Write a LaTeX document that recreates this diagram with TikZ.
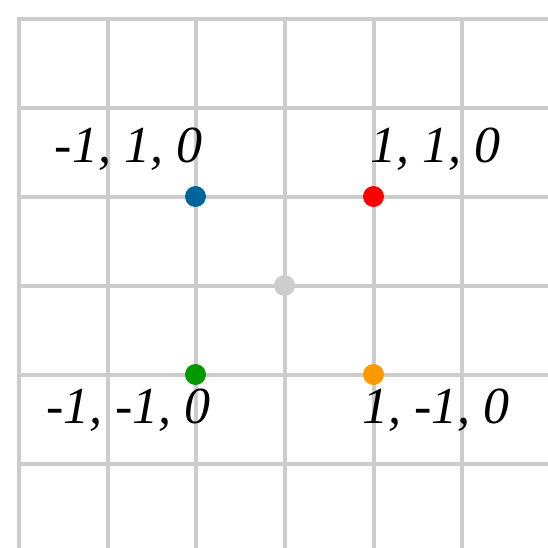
\documentclass[tikz,border=0pt]{standalone}
\usepackage{fontspec}
\setmainfont{Liberation Serif}
\definecolor{gridgray}{HTML}{CCCCCC}
\definecolor{dotblue}{HTML}{006699}
\definecolor{dotred}{HTML}{FF0000}
\definecolor{dotgreen}{HTML}{009900}
\definecolor{dotorange}{HTML}{FF9900}
\tikzset{
  gridline/.style={draw=gridgray, line width=4pt},
  dot/.style={circle, inner sep=0pt, minimum size=21pt, draw=none, fill=#1},
  coordlabel/.style={anchor=base, inner sep=0pt, font=\fontsize{52}{60}\selectfont\itshape}
}
\begin{document}
\begin{tikzpicture}[x=1pt,y=-1pt]
\useasboundingbox (0,0) rectangle (548,548);
\fill[white] (0,0) rectangle (548,548);
% grid
\foreach \gx in {18.5,107.5,195.5,284.5,373.5,461.5} {
  \draw[gridline] (\gx,17.5) -- (\gx,548);
}
\foreach \gy in {19.5,108.5,196.5,285.5,374.5,463.5} {
  \draw[gridline] (16.5,\gy) -- (548,\gy);
}
% dots
\node[dot=dotblue] (pbl) at (195.5,196.5) {};
\node[dot=dotred] (prd) at (373.5,196.5) {};
\node[dot=gridgray] (pcn) at (284.5,285.5) {};
\node[dot=dotgreen] (pgr) at (195.5,374.5) {};
\node[dot=dotorange] (por) at (373.5,374.5) {};
% labels
\node[coordlabel] (lbl) at (128.5,163) {-1, 1, 0};
\node[coordlabel] (lrd) at (435,163) {1, 1, 0};
\node[coordlabel] (lgr) at (128.5,423) {-1, -1, 0};
\node[coordlabel] (lor) at (436,423) {1, -1, 0};
\end{tikzpicture}
\end{document}
